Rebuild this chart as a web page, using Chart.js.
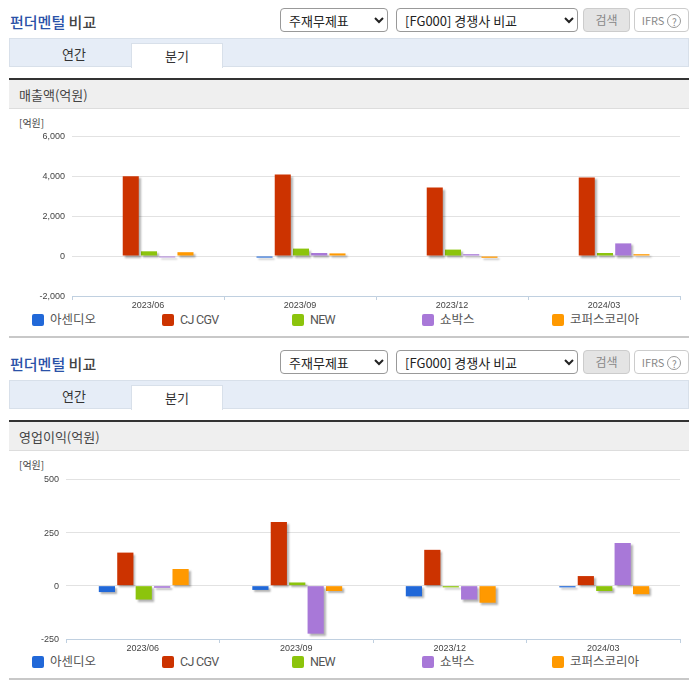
<!DOCTYPE html>
<html>
<head>
<meta charset="utf-8">
<script src="https://cdn.jsdelivr.net/npm/chart.js@4"></script>
<style>
  html, body { margin: 0; padding: 0; background: #fff; }
  body { width: 696px; height: 684px; position: relative; overflow: hidden; font-family: "Noto Sans CJK KR", sans-serif; color: #333; }
  .abs { position: absolute; white-space: nowrap; }
  .title { left: 10px; font-size: 15px; line-height: 20px; font-weight: 500; color: #444; }
  .title b { color: #2a52a8; font-weight: 500; }
  select { position: absolute; height: 24px; font-family: "Noto Sans CJK KR", sans-serif; font-size: 13px; color: #222; background: #fff; border: 1px solid #999; border-radius: 4px; padding: 0 4px; }
  .btn { position: absolute; height: 22px; line-height: 22px; text-align: center; font-size: 12px; border-radius: 4px; border: 1px solid #ccc; color: #888; }
  .help { display: inline-block; width: 14px; height: 14px; line-height: 13px; margin-left: 3px; border: 1px solid #999; border-radius: 50%; font-size: 10px; box-sizing: border-box; vertical-align: -1px; }
  .tabs { position: absolute; left: 9px; width: 680px; height: 29px; background: #e6edf7; border: 1px solid #d8e0ea; box-sizing: border-box; }
  .tab { position: absolute; text-align: center; font-size: 13px; line-height: 29px; color: #333; }
  .tab.on { background: #fff; border: 1px solid #d8e0ea; border-bottom: none; box-sizing: border-box; height: 25px; line-height: 23px; }
  .band { position: absolute; left: 9px; width: 680px; height: 31px; background: #efefef; border-top: 2px solid #333; border-bottom: 1px solid #ddd; box-sizing: border-box; font-size: 13px; line-height: 29px; padding-left: 10px; color: #444; }
  .rule { position: absolute; left: 9px; width: 680px; height: 2px; background: #c8c8c8; }
  .unit { left: 19px; font-size: 10px; line-height: 12px; color: #444; }
  canvas { position: absolute; left: 0; }
  .leg { position: absolute; font-family: Roboto, "Noto Sans CJK KR", sans-serif; font-size: 12.5px; line-height: 16px; color: #555; white-space: nowrap; padding-left: 18px; }
  .leg i { position: absolute; left: 0; top: 2px; width: 12px; height: 12px; border-radius: 2px; }
</style>
</head>
<body>
<script>
const quarters = ['2023/06', '2023/09', '2023/12', '2024/03'];
const companies = ['아센디오', 'CJ CGV', 'NEW', '쇼박스', '코퍼스코리아'];
const colors = ['#2168d8', '#cc3300', '#8cc40c', '#a878d8', '#ff9900'];

// 매출액(억원)
const salesAscendio = [0, -80, 0, 0];
const salesCgv = [3990, 4070, 3420, 3930];
const salesNew = [235, 370, 320, 150];
const salesShowbox = [-70, 150, 90, 630];
const salesKorpus = [190, 130, -90, 90];
const salesTicks = [6000, 4000, 2000, 0, -2000];

// 영업이익(억원)
const profitAscendio = [-30, -20, -50, -8];
const profitCgv = [155, 298, 168, 45];
const profitNew = [-65, 15, -8, -25];
const profitShowbox = [-10, -225, -65, 200];
const profitKorpus = [78, -25, -80, -40];
const profitTicks = [500, 250, 0, -250];

function add(tag, cls, style, html) {
  const el = document.createElement(tag);
  if (cls) el.className = cls;
  if (style) el.style.cssText = style;
  if (html !== undefined) el.innerHTML = html;
  document.body.appendChild(el);
  return el;
}

// bars have a soft grey shadow in the original, and sit 1px right of the tick centre
const barShadow = {
  id: 'barShadow',
  beforeDatasetsDraw(chart) {
    const c = chart.ctx;
    c.save();
    c.translate(1, 0);
    c.shadowColor = 'rgba(0,0,0,0.3)';
    c.shadowBlur = 2;
    c.shadowOffsetX = 2;
    c.shadowOffsetY = 2;
  },
  afterDatasetsDraw(chart) {
    chart.ctx.restore();
  }
};

function section(top, label, series, ticks, axisLeft, plotTop, plotBottom) {
  add('div', 'abs title', 'top:' + (top + 12) + 'px', '<b>펀더멘털</b> 비교');
  add('select', '', 'left:280px;top:' + (top + 8) + 'px;width:108px', '<option>주재무제표</option>');
  add('select', '', 'left:396px;top:' + (top + 8) + 'px;width:182px', '<option>[FG000] 경쟁사 비교</option>');
  add('div', 'btn', 'left:583px;top:' + (top + 8) + 'px;width:45px;background:#e4e4e4', '검색');
  add('div', 'btn', 'left:634px;top:' + (top + 8) + 'px;width:53px;background:#fff;font-size:11px', 'IFRS<span class="help">?</span>');
  add('div', 'tabs', 'top:' + (top + 38) + 'px');
  add('div', 'tab', 'left:10px;top:' + (top + 39) + 'px;width:128px', '연간');
  add('div', 'tab on', 'left:131px;top:' + (top + 43) + 'px;width:92px', '분기');
  add('div', 'band', 'top:' + (top + 78) + 'px', label);
  add('div', 'abs unit', 'top:' + (top + 117) + 'px', '[억원]');

  const canvasTop = top + 112;
  const cv = add('canvas', '', 'top:' + canvasTop + 'px');
  cv.width = 696;
  cv.height = 200;
  cv.style.width = '696px';
  cv.style.height = '200px';

  new Chart(cv.getContext('2d'), {
    type: 'bar',
    plugins: [barShadow],
    data: {
      labels: quarters,
      datasets: companies.map((name, i) => ({
        label: name,
        data: series[i],
        backgroundColor: colors[i],
        borderWidth: 0,
        categoryPercentage: 0.6,
        barPercentage: 0.88
      }))
    },
    options: {
      responsive: false,
      animation: false,
      layout: { padding: { top: plotTop - canvasTop, right: 16, left: 0, bottom: 0 } },
      plugins: { legend: { display: false }, tooltip: { enabled: false } },
      scales: {
        x: {
          afterFit(s) { s.height = canvasTop + 200 - plotBottom; },
          border: { color: '#c0d0e0' },
          grid: { drawOnChartArea: false, color: '#c0d0e0', tickLength: 4, offset: true },
          ticks: { color: '#444', font: { size: 9, family: '"Liberation Sans"' }, padding: 0, maxRotation: 0 }
        },
        y: {
          min: ticks[ticks.length - 1],
          max: ticks[0],
          afterFit(s) { s.width = axisLeft; },
          afterBuildTicks(s) { s.ticks = ticks.map(v => ({ value: v })); },
          border: { display: false },
          grid: { color: '#e2e2e2', drawTicks: false },
          ticks: {
            color: '#444',
            padding: 7,
            labelOffset: 1,
            font: { size: 9, family: '"Liberation Sans"' },
            callback: v => v.toLocaleString('en-US')
          }
        }
      }
    }
  });

  companies.forEach((name, i) => {
    // latin names run narrower than Roboto in the original
    const spacing = /^[A-Z ]+$/.test(name) ? 'letter-spacing:-0.7px;' : '';
    add('div', 'leg', spacing + 'left:' + (32 + i * 130) + 'px;top:' + (top + 312) + 'px', '<i style="background:' + colors[i] + '"></i>' + name);
  });
  add('div', 'rule', 'top:' + (top + 336) + 'px');
}

section(0, '매출액(억원)', [salesAscendio, salesCgv, salesNew, salesShowbox, salesKorpus], salesTicks, 72, 136, 296);
section(342, '영업이익(억원)', [profitAscendio, profitCgv, profitNew, profitShowbox, profitKorpus], profitTicks, 66, 479, 639);
</script>
</body>
</html>
